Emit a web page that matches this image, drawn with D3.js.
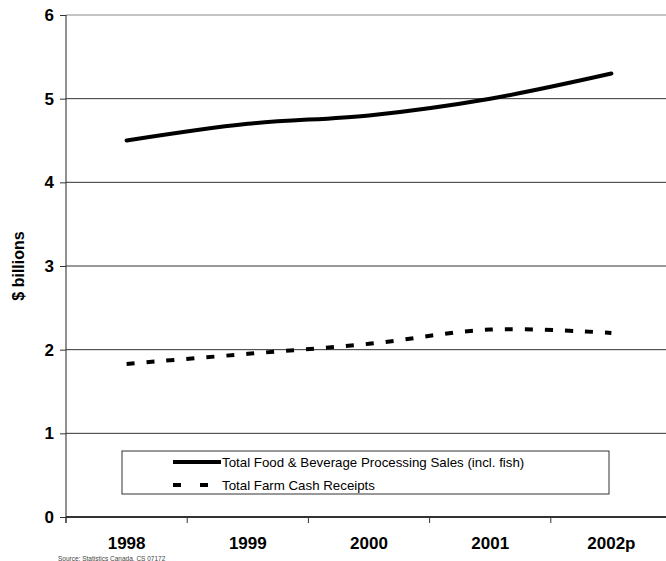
<!DOCTYPE html>
<html>
<head>
<meta charset="utf-8">
<script src="https://cdn.jsdelivr.net/npm/d3@7"></script>
<style>
  body { margin: 0; background: #fff; }
  svg { display: block; font-family: Arial, "Liberation Sans", sans-serif; }
</style>
</head>
<body>
<div id="chart"></div>
<script>
// Data
const years = ["1998", "1999", "2000", "2001", "2002p"];
const processingSales = [4.5, 4.7, 4.8, 5.0, 5.3];
const farmReceipts = [1.83, 1.95, 2.07, 2.24, 2.2];
const yTicks = [0, 1, 2, 3, 4, 5, 6];
const seriesNames = ["Total Food & Beverage Processing Sales (incl. fish)", "Total Farm Cash Receipts"];

const width = 666, height = 561;
const margin = { top: 15, left: 66, bottom: 44 };
const plotW = 606; // runs past the right edge like the original
const plotH = height - margin.top - margin.bottom;

const svg = d3.select("#chart")
    .append("svg")
    .attr("width", width)
    .attr("height", height);

const g = svg.append("g")
    .attr("transform", `translate(${margin.left},${margin.top})`);

const x = d3.scaleBand().domain(years).range([0, plotW]);
const y = d3.scaleLinear().domain([0, 6]).range([plotH, 0]);

// Gridlines
g.selectAll("line.grid")
    .data(yTicks)
    .enter()
    .append("line")
    .attr("class", "grid")
    .attr("x1", 0)
    .attr("x2", plotW)
    .attr("y1", d => y(d))
    .attr("y2", d => y(d))
    .attr("stroke", d => d === 6 ? "#888" : "#333")
    .attr("stroke-width", d => d === 0 ? 2 : 1);

// Y axis
const yAxis = g.append("g")
    .call(d3.axisLeft(y).tickValues(yTicks).tickSize(6).tickPadding(6).tickFormat(d3.format("d")));
yAxis.select(".domain").attr("stroke", "#222").attr("d", `M0,${plotH + 6}V0`);
yAxis.selectAll(".tick line").attr("stroke", "#333");
yAxis.selectAll("text")
    .attr("font-size", 17)
    .attr("font-weight", "bold")
    .attr("fill", "#000");

// X axis ticks at band edges
g.selectAll("line.xtick")
    .data(d3.range(years.length + 1))
    .enter()
    .append("line")
    .attr("x1", i => i * x.step())
    .attr("x2", i => i * x.step())
    .attr("y1", plotH)
    .attr("y2", plotH + 6)
    .attr("stroke", "#333");

g.selectAll("text.xlabel")
    .data(years)
    .enter()
    .append("text")
    .attr("x", d => x(d) + x.bandwidth() / 2)
    .attr("y", plotH + 32)
    .attr("text-anchor", "middle")
    .attr("font-size", 17)
    .attr("font-weight", "bold")
    .text(d => d);

// Y label
svg.append("text")
    .attr("transform", `translate(24,${margin.top + plotH / 2}) rotate(-90)`)
    .attr("text-anchor", "middle")
    .attr("font-size", 16)
    .attr("font-weight", "bold")
    .text("$ billions");

// Lines
const line = d3.line()
    .x((d, i) => x(years[i]) + x.bandwidth() / 2)
    .y(d => y(d))
    .curve(d3.curveCatmullRom.alpha(0.5));

g.append("path")
    .datum(processingSales)
    .attr("d", line)
    .attr("fill", "none")
    .attr("stroke", "#000")
    .attr("stroke-width", 4)
    .attr("stroke-linecap", "round");

g.append("path")
    .datum(farmReceipts)
    .attr("d", line)
    .attr("fill", "none")
    .attr("stroke", "#000")
    .attr("stroke-width", 4)
    .attr("stroke-dasharray", "8,12");

// Legend
const legend = svg.append("g").attr("transform", "translate(122,451)");
legend.append("rect")
    .attr("width", 487)
    .attr("height", 43)
    .attr("fill", "#fff")
    .attr("stroke", "#333");

const rows = legend.selectAll("g.row")
    .data(seriesNames)
    .enter()
    .append("g")
    .attr("transform", (d, i) => `translate(0,${11 + i * 23})`);

rows.append("line")
    .attr("x1", 51)
    .attr("x2", 99)
    .attr("stroke", "#000")
    .attr("stroke-width", 4)
    .attr("stroke-dasharray", (d, i) => i === 1 ? "8,19" : null);

rows.append("text")
    .attr("x", 100)
    .attr("y", 4.5)
    .attr("font-size", 13.3)
    .text(d => d);

// Source note (tiny, under the x labels)
svg.append("text")
    .attr("x", 58)
    .attr("y", 560.5)
    .attr("font-size", 6.5)
    .attr("fill", "#444")
    .text("Source: Statistics Canada, CS 07172");
</script>
</body>
</html>
